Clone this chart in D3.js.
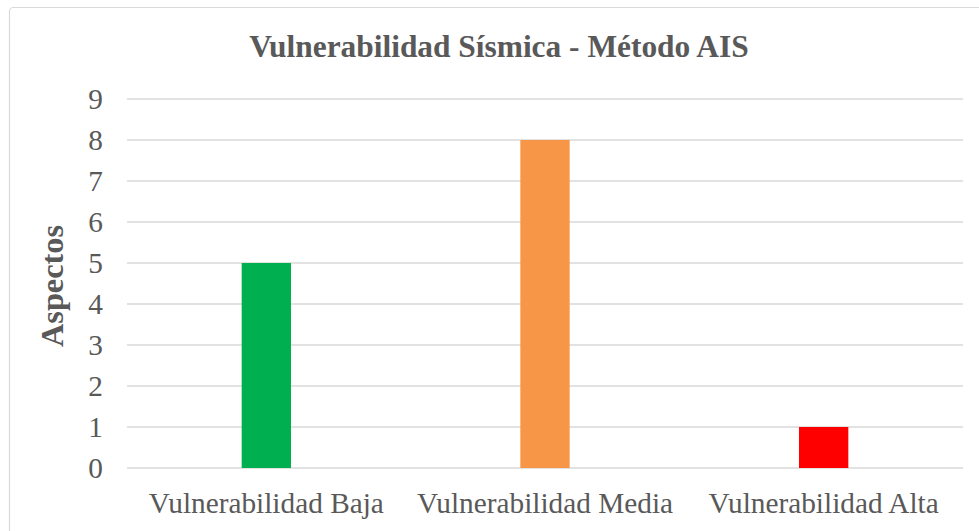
<!DOCTYPE html>
<html>
<head>
<meta charset="utf-8">
<script src="https://cdn.jsdelivr.net/npm/d3@7"></script>
<style>
  html, body { margin: 0; padding: 0; background: #fff; }
  svg { display: block; }
</style>
</head>
<body>
<svg id="chart" width="979" height="531"></svg>
<script>
// Chart data
const categories = ["Vulnerabilidad Baja", "Vulnerabilidad Media", "Vulnerabilidad Alta"];
const values = [5, 8, 1];
const barColors = ["#00b050", "#f79646", "#ff0000"];
const yTicks = [0, 1, 2, 3, 4, 5, 6, 7, 8, 9];
const titleText = "Vulnerabilidad Sísmica - Método AIS";
const yTitleText = "Aspectos";

const svg = d3.select("#chart");
const serif = '"Liberation Serif", "Times New Roman", serif';
const textColor = "#595959";

// Chart frame (continues past the right and bottom edges)
svg.append("rect")
  .attr("x", 9.5).attr("y", 7.5)
  .attr("width", 1000).attr("height", 600)
  .attr("rx", 4)
  .attr("fill", "#fff")
  .attr("stroke", "#d9d9d9")
  .attr("stroke-width", 1.2);

const plot = { left: 127, right: 963, top: 99, bottom: 468 };

const x = d3.scaleBand()
  .domain(categories)
  .range([plot.left, plot.right])
  .paddingInner(0.823)
  .paddingOuter(0.823 / 2);

const y = d3.scaleLinear()
  .domain([0, 9])
  .range([plot.bottom, plot.top]);

// Horizontal gridlines
svg.append("g")
  .selectAll("line")
  .data(yTicks)
  .join("line")
  .attr("x1", plot.left).attr("x2", plot.right)
  .attr("y1", d => y(d)).attr("y2", d => y(d))
  .attr("stroke", "#d9d9d9")
  .attr("stroke-width", 1.5);

// Y axis labels
const yAxis = d3.axisLeft(y).tickValues(yTicks).tickSize(0).tickPadding(0).tickFormat(d3.format("d"));
const gy = svg.append("g")
  .attr("transform", `translate(${plot.left - 24},0)`)
  .call(yAxis);
gy.attr("font-family", null).attr("font-size", null);
gy.select(".domain").remove();
gy.selectAll("text")
  .style("font-family", serif)
  .style("font-size", "29.3px")
  .attr("fill", textColor)
  .attr("dy", "0.34em");

// Bars
svg.append("g")
  .selectAll("rect")
  .data(values)
  .join("rect")
  .attr("x", (d, i) => x(categories[i]))
  .attr("width", x.bandwidth())
  .attr("y", d => y(d))
  .attr("height", d => y(0) - y(d))
  .attr("fill", (d, i) => barColors[i]);

// X axis labels
const xAxis = d3.axisBottom(x).tickSize(0).tickPadding(0);
const gx = svg.append("g")
  .attr("transform", `translate(0,${plot.bottom})`)
  .call(xAxis);
gx.attr("font-family", null).attr("font-size", null);
gx.select(".domain").remove();
gx.selectAll("text")
  .style("font-family", serif)
  .style("font-size", "29.3px")
  .attr("fill", textColor)
  .attr("dy", null)
  .attr("y", 45);

// Title
svg.append("text")
  .attr("x", 499)
  .attr("y", 57)
  .attr("text-anchor", "middle")
  .style("font-family", serif)
  .style("font-weight", 700)
  .style("font-size", "31.4px")
  .attr("fill", textColor)
  .text(titleText);

// Y axis title
svg.append("text")
  .attr("transform", "translate(63,286) rotate(-90)")
  .attr("text-anchor", "middle")
  .style("font-family", serif)
  .style("font-weight", 700)
  .style("font-size", "32.3px")
  .attr("fill", textColor)
  .text(yTitleText);
</script>
</body>
</html>
